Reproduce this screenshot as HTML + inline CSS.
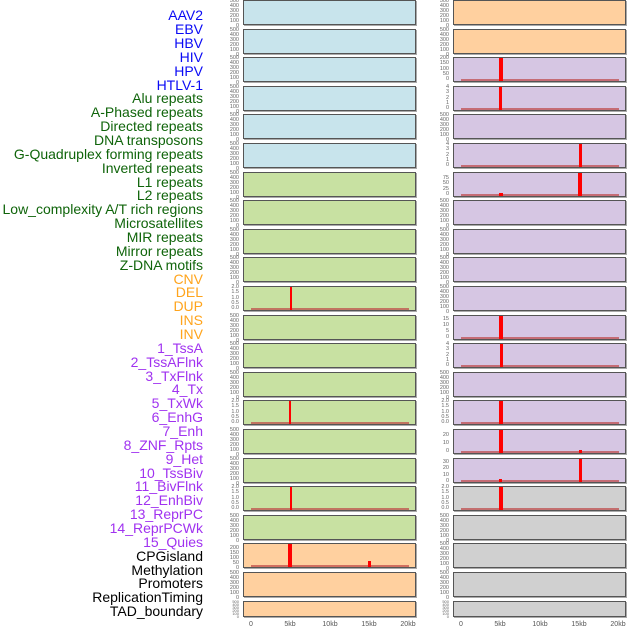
<!DOCTYPE html>
<html><head><meta charset="utf-8"><style>
body{margin:0;width:630px;height:630px;background:#fff;position:relative;overflow:hidden;font-family:"Liberation Sans",sans-serif}
.l{position:absolute;right:427px;font-size:14px;line-height:14px;white-space:nowrap}
.b{color:#0a0af5}.g{color:#0f640a}.o{color:#ffa41c}.u{color:#a032f0}.k{color:#000}
.p{position:absolute;width:173px;height:25px;box-sizing:border-box;border:1px solid #555;box-shadow:1px 1px 0 #aaa}
.L{left:243px}.R{left:453px}
.cb{background:#c8e4ec}.cg{background:#c8e1a2}.co{background:#ffd09f}.cp{background:#d6c6e3}.cy{background:#d0d0d0}
.t{position:absolute;width:30px;height:26px;display:flex;flex-direction:column;justify-content:space-between;align-items:flex-end;font-size:5.5px;line-height:5px;color:#666}
.tL{left:209px}.tR{left:419px}
.bl{position:absolute;left:7px;width:158px;bottom:0;height:2px;background:rgba(190,70,70,.7)}
.r{position:absolute;bottom:0;background:#f00}
.x{position:absolute;top:621px;font-size:7px;color:#555;transform:translateX(-50%)}
</style></head><body>
<div class="l b" style="top:8px">AAV2</div>
<div class="l b" style="top:22px">EBV</div>
<div class="l b" style="top:36px">HBV</div>
<div class="l b" style="top:50px">HIV</div>
<div class="l b" style="top:64px">HPV</div>
<div class="l b" style="top:78px">HTLV-1</div>
<div class="l g" style="top:91px">Alu repeats</div>
<div class="l g" style="top:105px">A-Phased repeats</div>
<div class="l g" style="top:119px">Directed repeats</div>
<div class="l g" style="top:133px">DNA transposons</div>
<div class="l g" style="top:147px">G-Quadruplex forming repeats</div>
<div class="l g" style="top:161px">Inverted repeats</div>
<div class="l g" style="top:175px">L1 repeats</div>
<div class="l g" style="top:188px">L2 repeats</div>
<div class="l g" style="top:202px">Low_complexity A/T rich regions</div>
<div class="l g" style="top:216px">Microsatellites</div>
<div class="l g" style="top:230px">MIR repeats</div>
<div class="l g" style="top:244px">Mirror repeats</div>
<div class="l g" style="top:258px">Z-DNA motifs</div>
<div class="l o" style="top:272px">CNV</div>
<div class="l o" style="top:285px">DEL</div>
<div class="l o" style="top:299px">DUP</div>
<div class="l o" style="top:313px">INS</div>
<div class="l o" style="top:327px">INV</div>
<div class="l u" style="top:341px">1_TssA</div>
<div class="l u" style="top:355px">2_TssAFlnk</div>
<div class="l u" style="top:369px">3_TxFlnk</div>
<div class="l u" style="top:382px">4_Tx</div>
<div class="l u" style="top:396px">5_TxWk</div>
<div class="l u" style="top:410px">6_EnhG</div>
<div class="l u" style="top:424px">7_Enh</div>
<div class="l u" style="top:438px">8_ZNF_Rpts</div>
<div class="l u" style="top:452px">9_Het</div>
<div class="l u" style="top:466px">10_TssBiv</div>
<div class="l u" style="top:479px">11_BivFlnk</div>
<div class="l u" style="top:493px">12_EnhBiv</div>
<div class="l u" style="top:507px">13_ReprPC</div>
<div class="l u" style="top:521px">14_ReprPCWk</div>
<div class="l u" style="top:535px">15_Quies</div>
<div class="l k" style="top:549px">CPGisland</div>
<div class="l k" style="top:563px">Methylation</div>
<div class="l k" style="top:576px">Promoters</div>
<div class="l k" style="top:590px">ReplicationTiming</div>
<div class="l k" style="top:604px">TAD_boundary</div>

<!-- LEFT column -->
<div class="p L cb" style="top:0"></div><div class="t tL" style="top:-1px"><span>500</span><span>400</span><span>300</span><span>200</span><span>100</span><span>0</span></div>
<div class="p L cb" style="top:29px"></div><div class="t tL" style="top:28px"><span>500</span><span>400</span><span>300</span><span>200</span><span>100</span><span>0</span></div>
<div class="p L cb" style="top:57px"></div><div class="t tL" style="top:56px"><span>500</span><span>400</span><span>300</span><span>200</span><span>100</span><span>0</span></div>
<div class="p L cb" style="top:86px"></div><div class="t tL" style="top:85px"><span>500</span><span>400</span><span>300</span><span>200</span><span>100</span><span>0</span></div>
<div class="p L cb" style="top:114px"></div><div class="t tL" style="top:113px"><span>500</span><span>400</span><span>300</span><span>200</span><span>100</span><span>0</span></div>
<div class="p L cb" style="top:143px"></div><div class="t tL" style="top:142px"><span>500</span><span>400</span><span>300</span><span>200</span><span>100</span><span>0</span></div>
<div class="p L cg" style="top:172px"></div><div class="t tL" style="top:171px"><span>500</span><span>400</span><span>300</span><span>200</span><span>100</span><span>0</span></div>
<div class="p L cg" style="top:200px"></div><div class="t tL" style="top:199px"><span>500</span><span>400</span><span>300</span><span>200</span><span>100</span><span>0</span></div>
<div class="p L cg" style="top:229px"></div><div class="t tL" style="top:228px"><span>500</span><span>400</span><span>300</span><span>200</span><span>100</span><span>0</span></div>
<div class="p L cg" style="top:257px"></div><div class="t tL" style="top:256px"><span>500</span><span>400</span><span>300</span><span>200</span><span>100</span><span>0</span></div>
<div class="p L cg" style="top:286px"><div class="bl"></div><div class="r" style="left:46px;width:2px;height:23px"></div></div><div class="t tL" style="top:285px"><span>2.0</span><span>1.5</span><span>1.0</span><span>0.5</span><span>0.0</span></div>
<div class="p L cg" style="top:315px"></div><div class="t tL" style="top:314px"><span>500</span><span>400</span><span>300</span><span>200</span><span>100</span><span>0</span></div>
<div class="p L cg" style="top:343px"></div><div class="t tL" style="top:342px"><span>500</span><span>400</span><span>300</span><span>200</span><span>100</span><span>0</span></div>
<div class="p L cg" style="top:372px"></div><div class="t tL" style="top:371px"><span>500</span><span>400</span><span>300</span><span>200</span><span>100</span><span>0</span></div>
<div class="p L cg" style="top:400px"><div class="bl"></div><div class="r" style="left:45px;width:2px;height:23px"></div></div><div class="t tL" style="top:399px"><span>2.0</span><span>1.5</span><span>1.0</span><span>0.5</span><span>0.0</span></div>
<div class="p L cg" style="top:429px"></div><div class="t tL" style="top:428px"><span>500</span><span>400</span><span>300</span><span>200</span><span>100</span><span>0</span></div>
<div class="p L cg" style="top:458px"></div><div class="t tL" style="top:457px"><span>500</span><span>400</span><span>300</span><span>200</span><span>100</span><span>0</span></div>
<div class="p L cg" style="top:486px"><div class="bl"></div><div class="r" style="left:46px;width:2px;height:23px"></div></div><div class="t tL" style="top:485px"><span>2.0</span><span>1.5</span><span>1.0</span><span>0.5</span><span>0.0</span></div>
<div class="p L cg" style="top:515px"></div><div class="t tL" style="top:514px"><span>500</span><span>400</span><span>300</span><span>200</span><span>100</span><span>0</span></div>
<div class="p L co" style="top:543px"><div class="bl"></div><div class="r" style="left:44px;width:4px;height:23px"></div><div class="r" style="left:124px;width:3px;height:6px"></div></div><div class="t tL" style="top:546px;height:23px"><span>200</span><span>150</span><span>100</span><span>50</span><span>0</span></div>
<div class="p L co" style="top:572px"></div><div class="t tL" style="top:571px"><span>500</span><span>400</span><span>300</span><span>200</span><span>100</span><span>0</span></div>
<div class="p L co" style="top:601px;height:16px"></div><div class="t tL" style="top:600px;height:17px;font-size:4px;line-height:3px"><span>500</span><span>400</span><span>300</span><span>200</span><span>100</span><span>0</span></div>

<!-- RIGHT column -->
<div class="p R co" style="top:0"></div><div class="t tR" style="top:-1px"><span>500</span><span>400</span><span>300</span><span>200</span><span>100</span><span>0</span></div>
<div class="p R co" style="top:29px"></div><div class="t tR" style="top:28px"><span>500</span><span>400</span><span>300</span><span>200</span><span>100</span><span>0</span></div>
<div class="p R cp" style="top:57px"><div class="bl"></div><div class="r" style="left:45px;width:4px;height:23px"></div></div><div class="t tR" style="top:56px"><span>200</span><span>150</span><span>100</span><span>50</span><span>0</span></div>
<div class="p R cp" style="top:86px"><div class="bl"></div><div class="r" style="left:45px;width:3px;height:23px"></div></div><div class="t tR" style="top:85px"><span>4</span><span>3</span><span>2</span><span>1</span><span>0</span></div>
<div class="p R cp" style="top:114px"></div><div class="t tR" style="top:113px"><span>500</span><span>400</span><span>300</span><span>200</span><span>100</span><span>0</span></div>
<div class="p R cp" style="top:143px"><div class="bl"></div><div class="r" style="left:125px;width:3px;height:23px"></div></div><div class="t tR" style="top:142px"><span>4</span><span>3</span><span>2</span><span>1</span><span>0</span></div>
<div class="p R cp" style="top:172px"><div class="bl"></div><div class="r" style="left:45px;width:4px;height:3px"></div><div class="r" style="left:124px;width:4px;height:23px"></div></div><div class="t tR" style="top:176px;height:21px"><span>75</span><span>50</span><span>25</span><span>0</span></div>
<div class="p R cp" style="top:200px"></div><div class="t tR" style="top:199px"><span>500</span><span>400</span><span>300</span><span>200</span><span>100</span><span>0</span></div>
<div class="p R cp" style="top:229px"></div><div class="t tR" style="top:228px"><span>500</span><span>400</span><span>300</span><span>200</span><span>100</span><span>0</span></div>
<div class="p R cp" style="top:257px"></div><div class="t tR" style="top:256px"><span>500</span><span>400</span><span>300</span><span>200</span><span>100</span><span>0</span></div>
<div class="p R cp" style="top:286px"></div><div class="t tR" style="top:285px"><span>500</span><span>400</span><span>300</span><span>200</span><span>100</span><span>0</span></div>
<div class="p R cp" style="top:315px"><div class="bl"></div><div class="r" style="left:45px;width:4px;height:23px"></div></div><div class="t tR" style="top:317px;height:23px"><span>15</span><span>10</span><span>5</span><span>0</span></div>
<div class="p R cp" style="top:343px"><div class="bl"></div><div class="r" style="left:46px;width:3px;height:23px"></div></div><div class="t tR" style="top:342px"><span>4</span><span>3</span><span>2</span><span>1</span><span>0</span></div>
<div class="p R cp" style="top:372px"></div><div class="t tR" style="top:371px"><span>500</span><span>400</span><span>300</span><span>200</span><span>100</span><span>0</span></div>
<div class="p R cp" style="top:400px"><div class="bl"></div><div class="r" style="left:45px;width:4px;height:23px"></div></div><div class="t tR" style="top:399px"><span>2.0</span><span>1.5</span><span>1.0</span><span>0.5</span><span>0.0</span></div>
<div class="p R cp" style="top:429px"><div class="bl"></div><div class="r" style="left:45px;width:4px;height:23px"></div><div class="r" style="left:125px;width:3px;height:3px"></div></div><div class="t tR" style="top:433px;height:21px"><span>20</span><span>10</span><span>0</span></div>
<div class="p R cp" style="top:458px"><div class="bl"></div><div class="r" style="left:45px;width:3px;height:3px"></div><div class="r" style="left:125px;width:3px;height:23px"></div></div><div class="t tR" style="top:460px;height:24px"><span>30</span><span>20</span><span>10</span><span>0</span></div>
<div class="p R cy" style="top:486px"><div class="bl"></div><div class="r" style="left:45px;width:4px;height:23px"></div></div><div class="t tR" style="top:485px"><span>2.0</span><span>1.5</span><span>1.0</span><span>0.5</span><span>0.0</span></div>
<div class="p R cy" style="top:515px"></div><div class="t tR" style="top:514px"><span>500</span><span>400</span><span>300</span><span>200</span><span>100</span><span>0</span></div>
<div class="p R cy" style="top:543px"></div><div class="t tR" style="top:542px"><span>500</span><span>400</span><span>300</span><span>200</span><span>100</span><span>0</span></div>
<div class="p R cy" style="top:572px"></div><div class="t tR" style="top:571px"><span>500</span><span>400</span><span>300</span><span>200</span><span>100</span><span>0</span></div>
<div class="p R cy" style="top:601px;height:16px"></div><div class="t tR" style="top:600px;height:17px;font-size:4px;line-height:3px"><span>500</span><span>400</span><span>300</span><span>200</span><span>100</span><span>0</span></div>

<div class="x" style="left:251px">0</div><div class="x" style="left:290px">5kb</div><div class="x" style="left:330px">10kb</div><div class="x" style="left:369px">15kb</div><div class="x" style="left:408px">20kb</div>
<div class="x" style="left:461px">0</div><div class="x" style="left:500px">5kb</div><div class="x" style="left:540px">10kb</div><div class="x" style="left:579px">15kb</div><div class="x" style="left:618px">20kb</div>
</body></html>
